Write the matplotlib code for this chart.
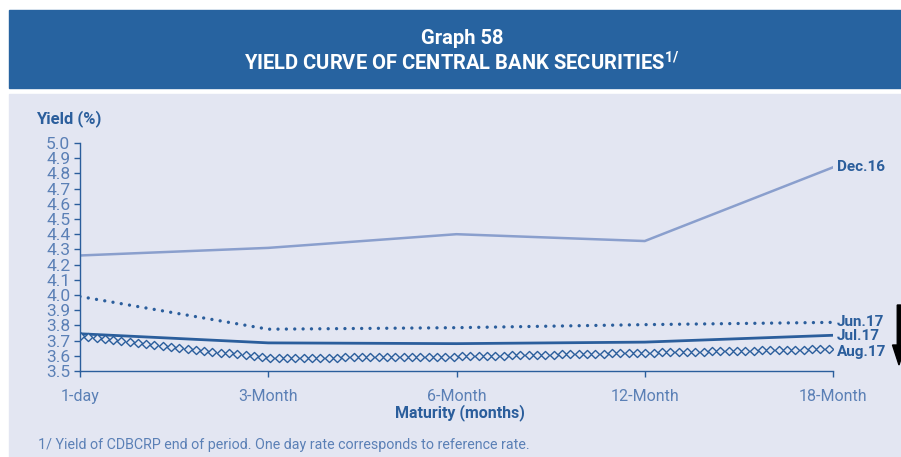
import numpy as np
import matplotlib
matplotlib.use("Agg")
import matplotlib.pyplot as plt
import matplotlib.patches as mpatches
from matplotlib.patheffects import AbstractPathEffect
from matplotlib.path import Path
from matplotlib.transforms import Affine2D, IdentityTransform

# ---- data -------------------------------------------------------------
maturities = ["1-day", "3-Month", "6-Month", "12-Month", "18-Month"]
dec16 = [4.26, 4.31, 4.40, 4.355, 4.84]
jun17 = [3.99, 3.775, 3.785, 3.805, 3.82]
jul17 = [3.745, 3.685, 3.68, 3.69, 3.735]
aug17 = [3.73, 3.585, 3.595, 3.62, 3.645]
series_names = ["Dec.16", "Jun.17", "Jul.17", "Aug.17"]
y_ticks = [round(3.5 + 0.1 * i, 1) for i in range(16)]

# ---- style ------------------------------------------------------------
plt.rcParams["font.family"] = ["Roboto", "DejaVu Sans"]

BAND = "#2763A0"
PANEL = "#E3E6F2"
DARK = "#2B5E9C"
TICK = "#5B80B6"
LIGHT = "#8A9FCD"


class DiamondTrail(AbstractPathEffect):
    """Draws a line as a chain of open diamonds spaced evenly along it."""

    def __init__(self, spacing=6.0, half_w=3.0, half_h=2.9, ec=DARK, fc=PANEL, lw=1.0):
        super().__init__()
        self.spacing = spacing
        self.half_w = half_w
        self.half_h = half_h
        self.ec = ec
        self.fc = fc
        self.lw = lw

    def draw_path(self, renderer, gc, tpath, affine, rgbFace=None):
        verts = affine.transform(tpath.vertices)
        seg = np.hypot(*np.diff(verts, axis=0).T)
        cum = np.concatenate([[0.0], np.cumsum(seg)])
        step = renderer.points_to_pixels(self.spacing)
        s = np.arange(0.0, cum[-1] + 1e-6, step)
        px = np.interp(s, cum, verts[:, 0])
        py = np.interp(s, cum, verts[:, 1])
        gc0 = renderer.new_gc()
        gc0.copy_properties(gc)
        gc0.set_foreground(self.ec)
        gc0.set_linewidth(self.lw)
        gc0.set_dashes(0, None)
        marker = Path.unit_regular_polygon(4)
        mtrans = Affine2D().scale(renderer.points_to_pixels(self.half_w),
                                  renderer.points_to_pixels(self.half_h))
        renderer.draw_markers(gc0, marker, mtrans,
                              Path(np.column_stack([px, py])), IdentityTransform(),
                              matplotlib.colors.to_rgb(self.fc))
        gc0.restore()


W, H = 901, 457
fig = plt.figure(figsize=(W / 100, H / 100), dpi=100, facecolor="white")

# header band and chart panel
fig.add_artist(mpatches.Rectangle((9 / W, 1 - 88 / H), 1, 78 / H,
                                  transform=fig.transFigure, color=BAND, zorder=0))
fig.add_artist(mpatches.Rectangle((9 / W, 0), 1, 1 - 94 / H,
                                  transform=fig.transFigure, color=PANEL, zorder=0))

fig.text(462 / W, 1 - 39 / H, "Graph 58", color="white", fontsize=14.5,
         fontweight="bold", ha="center", va="center")
fig.text(462 / W, 1 - 63 / H, r"YIELD CURVE OF CENTRAL BANK SECURITIES$^{\mathregular{1/}}$",
         color="white", fontsize=14.5, fontweight="bold", ha="center", va="center")

ax = fig.add_axes([80 / W, 1 - 371 / H, (833 - 80) / W, (371 - 143) / H])
ax.set_facecolor("none")
x = np.arange(len(maturities))

ax.plot(x, dec16, color=LIGHT, lw=1.8, solid_joinstyle="round")
ax.plot(x, jun17, color=DARK, lw=2.4, linestyle=(0, (0.01, 2.5)),
        dash_capstyle="round")
ax.plot(x, jul17, color=DARK, lw=2.0, solid_joinstyle="round")
ax.plot(x, aug17, color=DARK, lw=1, path_effects=[DiamondTrail()])

# end-of-line series labels
label_y = [dec16[-1], jun17[-1], jul17[-1] - 0.005, aug17[-1] - 0.02]
for name, yv in zip(series_names, label_y):
    ax.annotate(name, xy=(x[-1], yv), xytext=(3, 0), textcoords="offset points",
                color=DARK, fontsize=11, fontweight="bold", va="center", ha="left",
                annotation_clip=False)

ax.set_xlim(0, 4)
ax.set_ylim(3.5, 5.0)
ax.set_xticks(x)
ax.set_xticklabels(maturities)
ax.set_yticks(y_ticks)
ax.set_yticklabels([f"{v:.1f}" for v in y_ticks])
for side in ("top", "right"):
    ax.spines[side].set_visible(False)
for side in ("left", "bottom"):
    ax.spines[side].set_color(DARK)
    ax.spines[side].set_linewidth(1.0)
ax.tick_params(axis="both", colors=DARK, labelcolor=TICK,
               length=4, width=1, direction="out")
ax.tick_params(axis="x", pad=9, labelsize=11.5)
ax.tick_params(axis="y", pad=3, labelsize=12.5)

fig.text(36 / W, 1 - 119 / H, "Yield (%)", color=DARK, fontsize=12,
         fontweight="bold", ha="left", va="center")
fig.text(460 / W, 1 - 413 / H, "Maturity (months)", color=DARK, fontsize=11.5,
         fontweight="bold", ha="center", va="center")
fig.text(38 / W, 1 - 445 / H,
         "1/ Yield of CDBCRP end of period. One day rate corresponds to reference rate.",
         color=TICK, fontsize=10.3, ha="left", va="center")

# black downward arrow at the right edge
fig.add_artist(mpatches.FancyArrow(899 / W, 1 - 305 / H, 0, -(60 / H),
                                   width=3.5 / W, head_width=13 / W, head_length=20 / H,
                                   length_includes_head=True, transform=fig.transFigure,
                                   color="black", zorder=5))

fig.savefig("out.png", dpi=100, facecolor="white")
